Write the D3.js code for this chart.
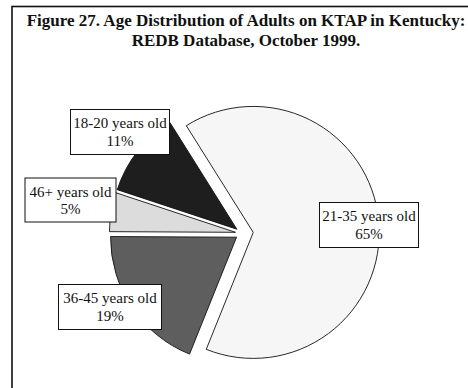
<!DOCTYPE html>
<html>
<head>
<meta charset="utf-8">
<script src="https://cdn.jsdelivr.net/npm/d3@7"></script>
<style>
  html, body { margin: 0; padding: 0; background: #fff; }
  svg { display: block; }
</style>
</head>
<body>
<svg id="chart" width="468" height="388"></svg>
<script>
// Age groups and their shares (percent)
const categories = ["21-35 years old", "36-45 years old", "46+ years old", "18-20 years old"];
const shares = [65, 19, 5, 11];
const fills = ["#f6f6f6", "#5e5e5e", "#dcdcdc", "#1e1e1e"];
const titleLines = [
  "Figure 27. Age Distribution of Adults on KTAP in Kentucky:",
  "REDB Database, October 1999."
];

const svg = d3.select("#chart");
const W = 468, H = 388;

// outer frame (right and bottom edges run off the canvas)
svg.append("rect")
  .attr("x", 12).attr("y", 6.5)
  .attr("width", 470).attr("height", 400)
  .attr("fill", "#fff").attr("stroke", "#111").attr("stroke-width", 1.6);

// title
svg.append("g").selectAll("text").data(titleLines).join("text")
  .attr("x", 246).attr("y", (d, i) => 26 + i * 20)
  .attr("text-anchor", "middle")
  .attr("font-family", "'Liberation Serif', 'Times New Roman', serif")
  .attr("font-weight", "bold")
  .attr("font-size", 17)
  .attr("fill", "#111")
  .text(d => d);

// pie geometry
const cx = 242.2, cy = 233.4, R = 126;
const startDeg = -32.1;
const pie = d3.pie().sort(null)
  .startAngle(startDeg * Math.PI / 180)
  .endAngle((startDeg + 360) * Math.PI / 180)
  .value(d => d.value);
const arcs = pie(categories.map((c, i) => ({ name: c, value: shares[i], fill: fills[i] })));
const arc = d3.arc().innerRadius(0).outerRadius(R);
// the largest slice is pulled further out than the rest
const explode = (d, i) => i === 0 ? 11.1 : 6.8;

const g = svg.append("g").attr("transform", `translate(${cx},${cy})`);
g.selectAll("path").data(arcs).join("path")
  .attr("d", arc)
  .attr("transform", (d, i) => {
    const a = (d.startAngle + d.endAngle) / 2;
    const e = explode(d, i);
    return `translate(${e * Math.sin(a)},${-e * Math.cos(a)})`;
  })
  .attr("fill", d => d.data.fill)
  .attr("stroke", "#111")
  .attr("stroke-width", 0.9)
  .attr("stroke-linejoin", "miter");

// label boxes (x, y, width, height in page coordinates)
const boxes = [
  { x: 319.5, y: 202.5, w: 99, h: 45 },
  { x: 58.5, y: 284.5, w: 103, h: 45 },
  { x: 25, y: 178, w: 91, h: 44 },
  { x: 70.5, y: 109.5, w: 99, h: 45 }
];
const lg = svg.append("g");
arcs.forEach((d, i) => {
  const b = boxes[i];
  lg.append("rect")
    .attr("x", b.x).attr("y", b.y).attr("width", b.w).attr("height", b.h)
    .attr("fill", "#fff").attr("stroke", "#111").attr("stroke-width", 1);
  const t = lg.append("text")
    .attr("text-anchor", "middle")
    .attr("font-family", "'Liberation Serif', 'Times New Roman', serif")
    .attr("font-size", 15)
    .attr("fill", "#111");
  t.append("tspan").attr("x", b.x + b.w / 2).attr("y", b.y + 18.5).text(d.data.name);
  t.append("tspan").attr("x", b.x + b.w / 2).attr("y", b.y + 36).text(d.data.value + "%");
});
</script>
</body>
</html>
